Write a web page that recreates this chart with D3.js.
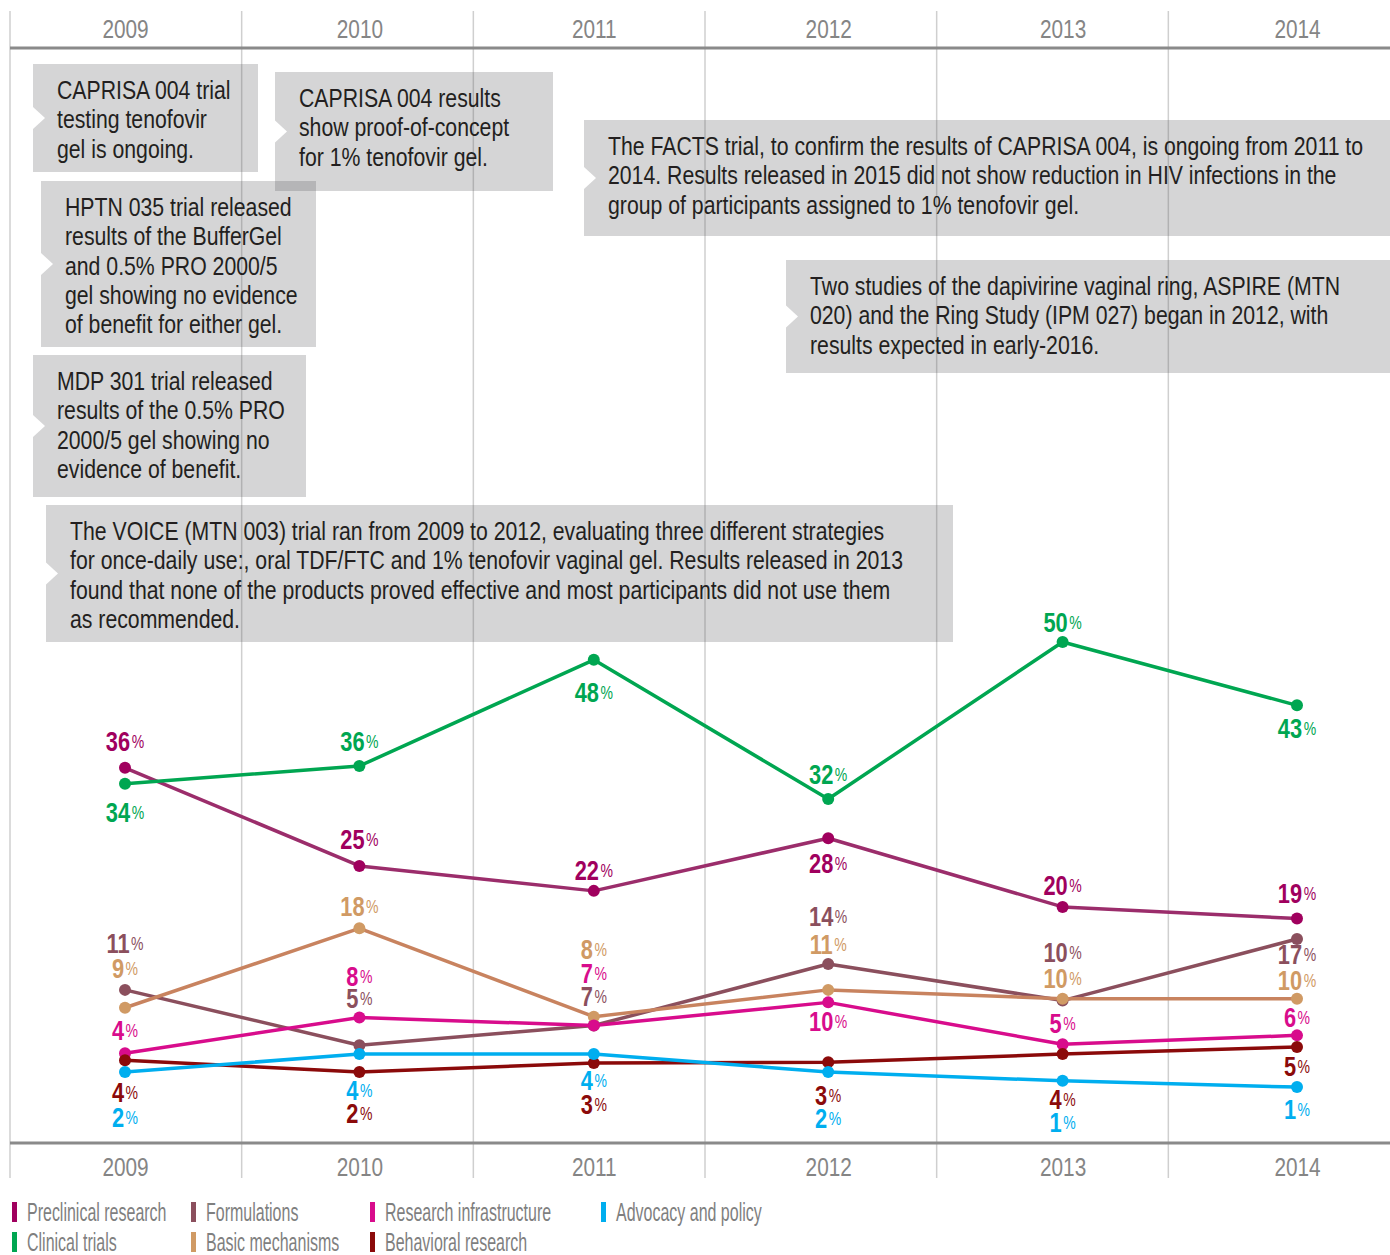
<!DOCTYPE html>
<html>
<head>
<meta charset="utf-8">
<script src="https://cdn.jsdelivr.net/npm/d3@7"></script>
<style>
  body { margin: 0; background: #fff; }
  svg { display: block; }
</style>
</head>
<body>
<div id="chart"></div>
<script>
// years on both axes
const years = [2009, 2010, 2011, 2012, 2013, 2014]

// share of funding per category (estimated plotted value) and the printed label
const preclinical = [35.9, 24.9, 22.1, 28.0, 20.3, 19.0]
const preclinicalLabels = [36, 25, 22, 28, 20, 19]
const clinical = [34.1, 36.1, 48.0, 32.4, 50.0, 42.9]
const clinicalLabels = [34, 36, 48, 32, 50, 43]
const formulations = [11.0, 4.8, 7.0, 13.9, 9.8, 16.7]
const formulationsLabels = [11, 5, 7, 14, 10, 17]
const basic = [9.0, 17.9, 8.0, 11.0, 10.0, 10.0]
const basicLabels = [9, 18, 8, 11, 10, 10]
const infrastructure = [3.9, 7.9, 7.0, 9.6, 4.9, 5.9]
const infrastructureLabels = [4, 8, 7, 10, 5, 6]
const advocacy = [1.8, 3.8, 3.8, 1.8, 0.8, 0.1]
const advocacyLabels = [2, 4, 4, 2, 1, 1]
const behavioral = [3.1, 1.8, 2.8, 2.9, 3.8, 4.6]
const behavioralLabels = [4, 2, 3, 3, 4, 5]

const notes = [
  ['CAPRISA 004 trial', 'testing tenofovir', 'gel is ongoing.'],
  ['CAPRISA 004 results', 'show proof-of-concept', 'for 1% tenofovir gel.'],
  ['HPTN 035 trial released', 'results of the BufferGel', 'and 0.5% PRO 2000/5', 'gel showing no evidence', 'of benefit for either gel.'],
  ['MDP 301 trial released', 'results of the 0.5% PRO', '2000/5 gel showing no', 'evidence of benefit.'],
  ['The VOICE (MTN 003) trial ran from 2009 to 2012, evaluating three different strategies',
    'for once-daily use:, oral TDF/FTC and 1% tenofovir vaginal gel. Results released in 2013',
    'found that none of the products proved effective and most participants did not use them',
    'as recommended.'],
  ['The FACTS trial, to confirm the results of CAPRISA 004, is ongoing from 2011 to',
    '2014. Results released in 2015 did not show reduction in HIV infections in the',
    'group of participants assigned to 1% tenofovir gel.'],
  ['Two studies of the dapivirine vaginal ring, ASPIRE (MTN',
    '020) and the Ring Study (IPM 027) began in 2012, with',
    'results expected in early-2016.']
]

// ---- layout / styling ----
const width = 1390
const height = 1255
const font = "'Liberation Sans', Arial, sans-serif"
// the original face is a condensed gothic, so regular text gets squeezed sideways
const squeezeNote = 0.85
const squeezeLabel = 0.78
const squeezeYear = 0.8
const squeezeLegend = 0.64

const series = [
  { name: 'Preclinical research', values: preclinical, labels: preclinicalLabels, color: '#a0005e', line: '#9b2d6b',
    dy: [-27, -27, -21, 25, -22, -26] },
  { name: 'Formulations', values: formulations, labels: formulationsLabels, color: '#8b4f5d', line: '#8b4f5d',
    dy: [-47, -47, -30, -48, -49, 15] },
  { name: 'Basic mechanisms', values: basic, labels: basicLabels, color: '#d09a64', line: '#c8835f',
    dy: [-40, -22, -68, -46, -21, -19] },
  { name: 'Research infrastructure', values: infrastructure, labels: infrastructureLabels, color: '#d80c8c', line: '#d80c8c',
    dy: [-23, -42, -53, 19, -21, -18] },
  { name: 'Behavioral research', values: behavioral, labels: behavioralLabels, color: '#8b0a0a', line: '#8b0a0a',
    dy: [32, 41, 41, 33, 45, 19] },
  { name: 'Advocacy and policy', values: advocacy, labels: advocacyLabels, color: '#00aeef', line: '#00aeef',
    dy: [45, 36, 26, 46, 41, 22] },
  { name: 'Clinical trials', values: clinical, labels: clinicalLabels, color: '#00a651', line: '#00a651',
    dy: [28, -25, 32, -25, -20, 23] }
]

const legendOrder = [
  ['Preclinical research', 'Clinical trials'],
  ['Formulations', 'Basic mechanisms'],
  ['Research infrastructure', 'Behavioral research'],
  ['Advocacy and policy']
]
const legendX = [12, 191, 370, 601]

const noteBoxes = [
  { x: 33, y: 64, w: 225, h: 108 },
  { x: 275, y: 72, w: 278, h: 119 },
  { x: 41, y: 181, w: 275, h: 166 },
  { x: 33, y: 355, w: 273, h: 142 },
  { x: 46, y: 505, w: 907, h: 137 },
  { x: 584, y: 120, w: 806, h: 116 },
  { x: 786, y: 260, w: 604, h: 113 }
]

const svg = d3.select('#chart').append('svg')
  .attr('width', width)
  .attr('height', height)
  .style('font-family', font)

const x = d3.scalePoint().domain(years).range([125, 1297])
const band = d3.scaleBand().domain(years).range([10, 1400])
const y = d3.scaleLinear().domain([0, 50]).range([1088, 642])

// vertical grid
svg.append('g')
  .selectAll('line')
  .data(years)
  .join('line')
  .attr('x1', d => band(d))
  .attr('x2', d => band(d))
  .attr('y1', 11)
  .attr('y2', 1178)
  .attr('stroke', '#cfcfcf')
  .attr('stroke-width', 1.5)

// top and bottom axis
const axisTop = svg.append('g').attr('transform', 'translate(0,48)')
  .call(d3.axisTop(x).tickSize(0).tickPadding(10))
const axisBottom = svg.append('g').attr('transform', 'translate(0,1143)')
  .call(d3.axisBottom(x).tickSize(0).tickPadding(15))
for (const ax of [axisTop, axisBottom]) {
  ax.select('.domain').remove()
  ax.append('line')
    .attr('x1', 10).attr('x2', width)
    .attr('stroke', '#8a8a8a').attr('stroke-width', 3)
  ax.selectAll('.tick text')
    .attr('fill', '#858585')
    .style('font-family', font)
    .style('font-size', '26px')
    .attr('transform', `scale(${squeezeYear},1)`)
}

// callout boxes
const box = svg.append('g')
  .selectAll('g')
  .data(notes)
  .join('g')
  .attr('transform', (d, i) => `translate(${noteBoxes[i].x},${noteBoxes[i].y})`)

box.append('rect')
  .attr('width', (d, i) => noteBoxes[i].w)
  .attr('height', (d, i) => noteBoxes[i].h)
  .attr('fill', '#57595c')
  .attr('fill-opacity', 0.25)

box.append('path')
  .attr('d', (d, i) => {
    const c = noteBoxes[i].h / 2
    return `M0,${c - 11}L12,${c}L0,${c + 11}Z`
  })
  .attr('fill', '#fff')

box.append('text')
  .attr('transform', `translate(24,0) scale(${squeezeNote},1)`)
  .attr('fill', '#231f20')
  .style('font-size', '25px')
  .selectAll('tspan')
  .data(d => d)
  .join('tspan')
  .attr('x', 0)
  .attr('y', (d, i) => 35 + i * 29.3)
  .text(d => d)

// lines and dots
const line = d3.line()
  .x((d, i) => x(years[i]))
  .y(d => y(d))

const g = svg.append('g')
  .selectAll('g')
  .data(series)
  .join('g')

g.append('path')
  .attr('d', d => line(d.values))
  .attr('fill', 'none')
  .attr('stroke', d => d.line)
  .attr('stroke-width', 3.5)
  .attr('stroke-linejoin', 'round')

g.selectAll('circle')
  .data(d => d.values.map((v, i) => ({ v, i, s: d })))
  .join('circle')
  .attr('cx', d => x(years[d.i]))
  .attr('cy', d => y(d.v))
  .attr('r', 6)
  .attr('fill', d => d.s.color)

// value labels
const label = svg.append('g')
  .selectAll('text')
  .data(series.flatMap(s => s.values.map((v, i) => ({ v, i, s }))))
  .join('text')
  .attr('transform', d => `translate(${x(years[d.i])},${y(d.v) + d.s.dy[d.i] + 10}) scale(${squeezeLabel},1)`)
  .attr('text-anchor', 'middle')
  .attr('fill', d => d.s.color)

label.append('tspan')
  .style('font-size', '28px')
  .style('font-weight', 'bold')
  .text(d => d.s.labels[d.i])
label.append('tspan')
  .style('font-size', '18px')
  .attr('dx', 2)
  .attr('dy', -3)
  .text('%')

// legend
const colorOf = name => series.find(s => s.name === name).color
const legend = svg.append('g')
  .selectAll('g')
  .data(legendOrder.flatMap((col, c) => col.map((name, r) => ({ name, c, r }))))
  .join('g')
  .attr('transform', d => `translate(${legendX[d.c]},${1202 + d.r * 30})`)

legend.append('rect')
  .attr('width', 5)
  .attr('height', 20)
  .attr('fill', d => colorOf(d.name))

legend.append('text')
  .attr('transform', `translate(15,19) scale(${squeezeLegend},1)`)
  .attr('fill', '#7f7f7f')
  .style('font-size', '25px')
  .text(d => d.name)
</script>
</body>
</html>
